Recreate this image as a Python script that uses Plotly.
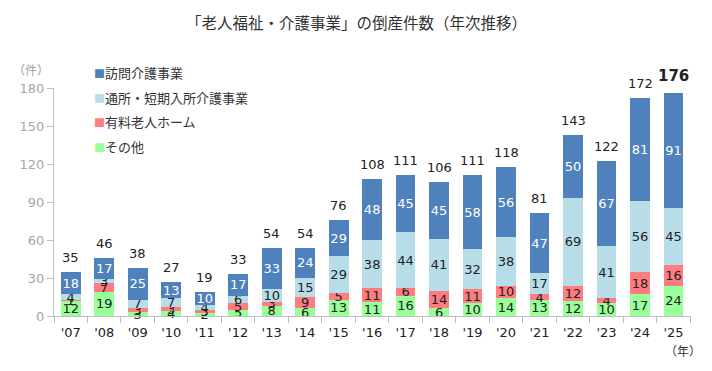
import plotly.graph_objects as go

years = ["'07", "'08", "'09", "'10", "'11", "'12", "'13", "'14", "'15", "'16",
         "'17", "'18", "'19", "'20", "'21", "'22", "'23", "'24", "'25"]
other = [12, 19, 3, 4, 2, 5, 8, 6, 13, 11, 16, 6, 10, 14, 13, 12, 10, 17, 24]
nursing_home = [1, 7, 3, 3, 3, 5, 3, 9, 5, 11, 6, 14, 11, 10, 4, 12, 4, 18, 16]
day_short = [4, 3, 7, 7, 4, 6, 10, 15, 29, 38, 44, 41, 32, 38, 17, 69, 41, 56, 45]
home_visit = [18, 17, 25, 13, 10, 17, 33, 24, 29, 48, 45, 45, 58, 56, 47, 50, 67, 81, 91]
totals = [35, 46, 38, 27, 19, 33, 54, 54, 76, 108, 111, 106, 111, 118, 81, 143, 122, 172, 176]

series = [
    ("その他", other, "#99ff99", "#222222"),
    ("有料老人ホーム", nursing_home, "#ff7c80", "#222222"),
    ("通所・短期入所介護事業", day_short, "#b7dee8", "#222222"),
    ("訪問介護事業", home_visit, "#4f81bd", "#ffffff"),
]

NUM_FONT = "DejaVu Sans, Verdana, sans-serif"
JP_FONT = "Noto Sans CJK JP, sans-serif"

# plot area in window pixels (page has an 8px body margin)
PX0, PX1, PY0, PY1 = 45, 691, 88, 316


def px(wx):
    return (wx - PX0) / (PX1 - PX0)


def py(wy):
    return (PY1 - wy) / (PY1 - PY0)


fig = go.Figure()
for name, vals, color, tcolor in series:
    fig.add_trace(go.Bar(
        x=years, y=vals, name=name,
        marker=dict(color=color, line=dict(width=0)),
        text=[str(v) for v in vals], textposition="inside",
        insidetextanchor="middle", textangle=0,
        textfont=dict(family=NUM_FONT, size=13, color=tcolor),
        showlegend=False, cliponaxis=False,
    ))

annotations = []
for i, (yr, t) in enumerate(zip(years, totals)):
    last = i == len(totals) - 1
    annotations.append(dict(
        x=yr, y=t, xref="x", yref="y", showarrow=False,
        text=f"<b>{t}</b>" if last else str(t),
        xanchor="center", yanchor="bottom", yshift=6 if last else 5,
        font=dict(family=NUM_FONT, size=15 if last else 13, color="#222222"),
    ))

annotations += [
    dict(text="「老人福祉・介護事業」の倒産件数（年次推移）", xref="paper", yref="paper",
         x=px(352), y=py(22), xanchor="center", yanchor="middle",
         font=dict(family=JP_FONT, size=15.5, color="#333333"), showarrow=False),
    dict(text="（件）", xref="paper", yref="paper", x=px(22), y=py(70),
         xanchor="center", yanchor="middle",
         font=dict(family=JP_FONT, size=12, color="#a0a0a0"), showarrow=False),
    dict(text="（年）", xref="paper", yref="paper", x=px(683), y=py(350),
         xanchor="center", yanchor="middle",
         font=dict(family=JP_FONT, size=12, color="#333333"), showarrow=False),
]
leg_y = [72, 97, 121, 146]
for (name, vals, color, tcolor), yy in zip(reversed(series), leg_y):
    annotations.append(dict(
        text=f'<span style="color:{color};font-size:11px">■</span>{name}',
        xref="paper", yref="paper",
        x=px(84), y=py(yy),
        xanchor="left", yanchor="middle", showarrow=False,
        font=dict(family=JP_FONT, size=13, color="#333333"),
    ))

W, H = 704, 363
fig.update_layout(
    width=W, height=H,
    margin=dict(l=PX0 - 8, r=W - (PX1 - 8), t=PY0 - 8, b=H - (PY1 - 8)),
    barmode="stack", bargap=0.41,
    plot_bgcolor="white", paper_bgcolor="white",
    uniformtext=dict(minsize=13, mode="show"),
    annotations=annotations,
    xaxis=dict(
        showline=True, linecolor="#bfbfbf", linewidth=1,
        ticks="outside", ticklen=6, tickcolor="#bfbfbf", tickson="boundaries",
        ticklabelstandoff=4,
        tickfont=dict(family=NUM_FONT, size=13, color="#222222"),
        showgrid=False, fixedrange=True,
    ),
    yaxis=dict(
        range=[0, 180], tickvals=[0, 30, 60, 90, 120, 150, 180],
        showline=True, linecolor="#bfbfbf", linewidth=1,
        ticks="outside", ticklen=6, tickcolor="#bfbfbf",
        tickfont=dict(family=NUM_FONT, size=13, color="#a6a6a6"),
        showgrid=False, zeroline=False,
    ),
)

fig.write_html("out.html")
